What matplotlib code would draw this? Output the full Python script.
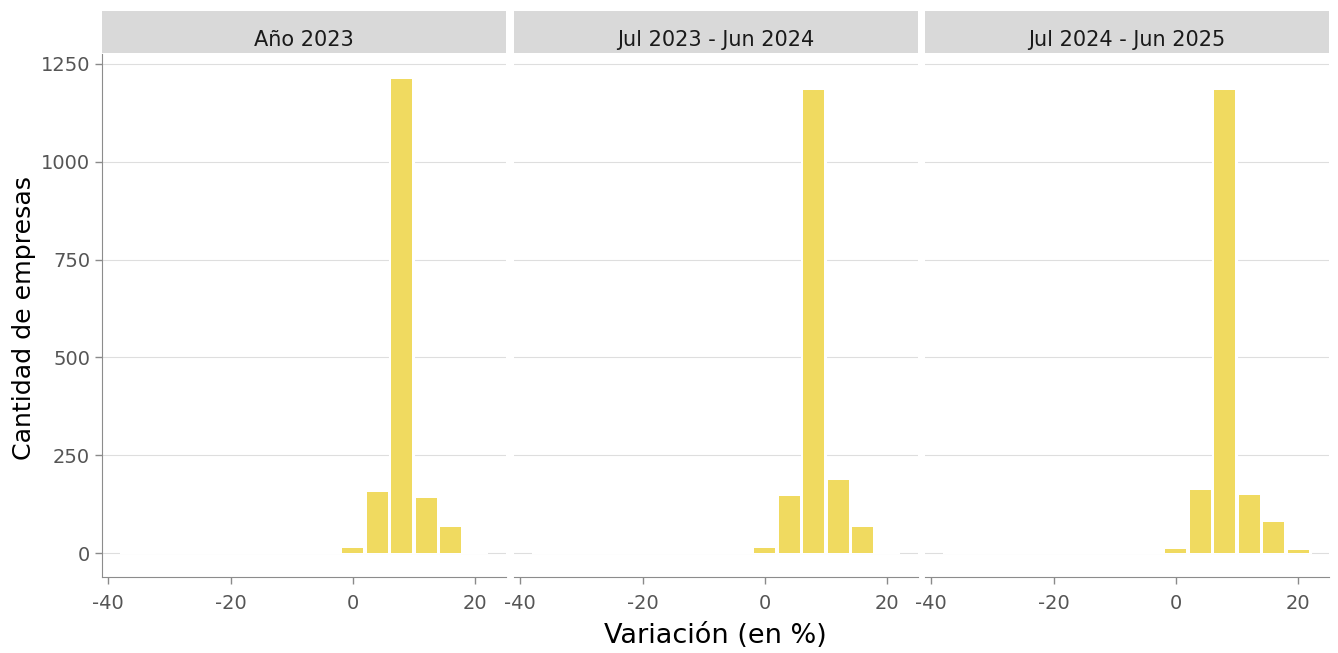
import numpy as np
import matplotlib
matplotlib.use("Agg")
import matplotlib.pyplot as plt

plt.rcParams["axes.unicode_minus"] = False

# --- Data ---
periods = ["Año 2023", "Jul 2023 - Jun 2024", "Jul 2024 - Jun 2025"]
bin_centers = [-36, -32, -28, -24, -20, -16, -12, -8, -4, 0, 4, 8, 12, 16, 20]
counts_2023 = [0, 0, 0, 0, 0, 0, 0, 0, 0, 12, 157, 1210, 140, 68, 0]
counts_2324 = [0, 0, 0, 0, 0, 0, 0, 0, 0, 12, 147, 1184, 187, 68, 0]
counts_2425 = [0, 0, 0, 0, 0, 0, 0, 0, 0, 11, 161, 1183, 148, 79, 8]
all_counts = [counts_2023, counts_2324, counts_2425]
bin_width = 4

bar_color = "#F0DA60"
W, H = 1338, 653
fig = plt.figure(figsize=(W / 100, H / 100), dpi=100)

lefts = [102, 514, 925]
pw = 404
top, bottom = 54, 577
strip_top = 11

for i, (name, counts) in enumerate(zip(periods, all_counts)):
    ax = fig.add_axes([lefts[i] / W, 1 - bottom / H, pw / W, (bottom - top) / H])
    # white outline of the histogram (hides the zero gridline under the bins)
    ax.bar(bin_centers, counts, width=bin_width, color="white",
           edgecolor="white", linewidth=1.5, zorder=2)
    ax.bar(bin_centers, counts, width=bin_width * 0.86, color=bar_color,
           linewidth=0, zorder=3)
    ax.set_xlim(-41, 25)
    ax.set_ylim(-61, 1275)
    ax.set_xticks([-40, -20, 0, 20])
    ax.set_yticks([0, 250, 500, 750, 1000, 1250])
    ax.grid(axis="y", color="#DEDEDE", linewidth=0.8, zorder=0)
    ax.set_axisbelow(True)
    for s in ["top", "right"]:
        ax.spines[s].set_visible(False)
    ax.spines["bottom"].set_color("#8C8C8C")
    ax.spines["left"].set_color("#8C8C8C")
    ax.tick_params(axis="both", colors="#8A8A8A", labelcolor="#555555",
                   labelsize=14, length=5, width=1)
    ax.tick_params(axis="x", pad=7)
    if i > 0:
        ax.spines["left"].set_visible(False)
        ax.tick_params(axis="y", left=False, labelleft=False)
    # facet strip
    sax = fig.add_axes([lefts[i] / W, 1 - (top - 1) / H, pw / W, (top - 1 - strip_top) / H])
    sax.set_facecolor("#D9D9D9")
    sax.set_xticks([])
    sax.set_yticks([])
    for s in sax.spines.values():
        s.set_visible(False)
    sax.text(0.5, 0.31, name, ha="center", va="center", fontsize=15,
             color="#1A1A1A", transform=sax.transAxes)

fig.text(0.5 * (lefts[0] + lefts[2] + pw) / W, 1 - 636 / H, "Variación (en %)",
         ha="center", va="center", fontsize=19.5)
fig.text(24 / W, 1 - 318 / H, "Cantidad de empresas", ha="center", va="center",
         rotation=90, fontsize=18.2)

plt.savefig("out.png", dpi=100)
